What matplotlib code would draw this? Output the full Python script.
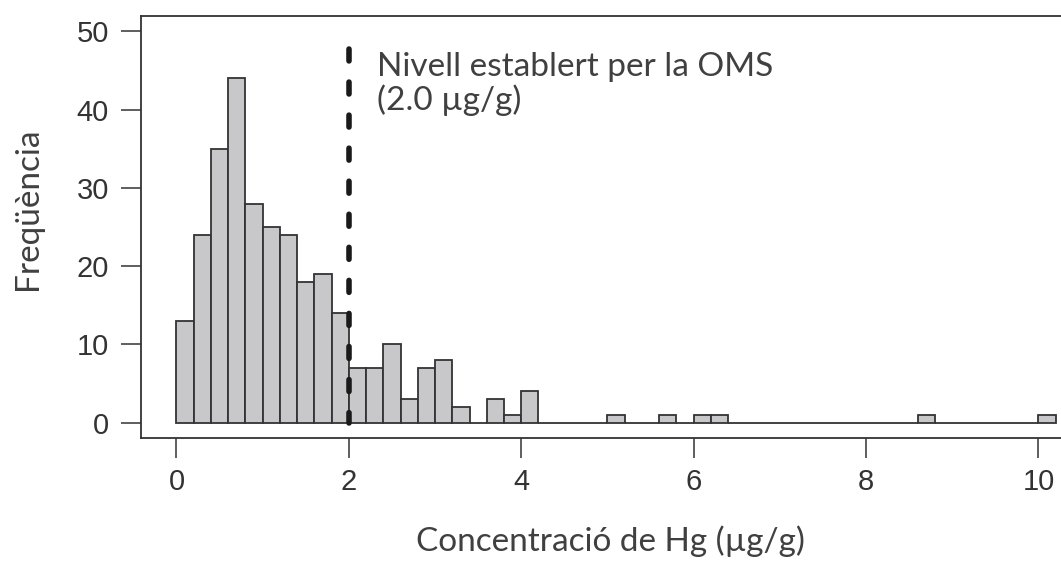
import numpy as np
import matplotlib.pyplot as plt

# histogram of Hg concentration (bins of 0.2 ug/g starting at 0)
bin_start = 0.0
bin_width = 0.2
counts = [13, 24, 35, 44, 28, 25, 24, 18, 19, 14,
          7, 7, 10, 3, 7, 8, 2, 0, 3, 1,
          4, 0, 0, 0, 0, 1, 0, 0, 1, 0,
          1, 1, 0, 0, 0, 0, 0, 0, 0, 0,
          0, 0, 0, 1, 0, 0, 0, 0, 0, 0,
          1]
who_level = 2.0
x_ticks = [0, 2, 4, 6, 8, 10]
y_ticks = [0, 10, 20, 30, 40, 50]

plt.rcParams['font.family'] = 'Liberation Sans'
plt.rcParams['xtick.labelsize'] = 21
plt.rcParams['ytick.labelsize'] = 21

left_edges = bin_start + bin_width * np.arange(len(counts))

fig = plt.figure(figsize=(10.61, 5.61), dpi=100)
ax = fig.add_axes([0.1332, 0.2187, 0.8949, 0.7533])

ax.bar(left_edges, counts, width=bin_width, align='edge',
       color='#c8c8ca', edgecolor='#333333', linewidth=1.3, zorder=2)

# WHO reference level, drawn from the top down
ax.plot([who_level, who_level], [47.75, 0], color='#1a1a1a', linewidth=4,
        linestyle=(0, (2.15, 3.8)), dash_capstyle='round', zorder=3)

ax.text(2.33, 47.35, 'Nivell establert per la OMS\n(2.0 µg/g)', ha='left', va='top',
        fontsize=24, family='Lato', color='#404040', linespacing=1.07)

ax.set_xlim(-0.408, 10.608)
ax.set_ylim(-2, 52)
ax.set_xticks(x_ticks)
ax.set_yticks(y_ticks)
ax.tick_params(axis='both', direction='out', length=14.4, width=1.1, color='#333333',
               labelcolor='#333333')
ax.tick_params(axis='x', pad=7)
ax.tick_params(axis='y', pad=9)
for sp in ax.spines.values():
    sp.set_linewidth(1.3)
    sp.set_color('#333333')

ax.set_xlabel('Concentració de Hg (µg/g)', family='Lato', fontsize=24, color='#404040')
ax.set_ylabel('Freqüència', family='Lato', fontsize=24, color='#404040')
ax.xaxis.label.set_va('center')
ax.yaxis.label.set_va('center')
ax.xaxis.set_label_coords(0.4936, -0.243)
ax.yaxis.set_label_coords(-0.1193, 0.5426)

fig.savefig('out.png', dpi=100)
